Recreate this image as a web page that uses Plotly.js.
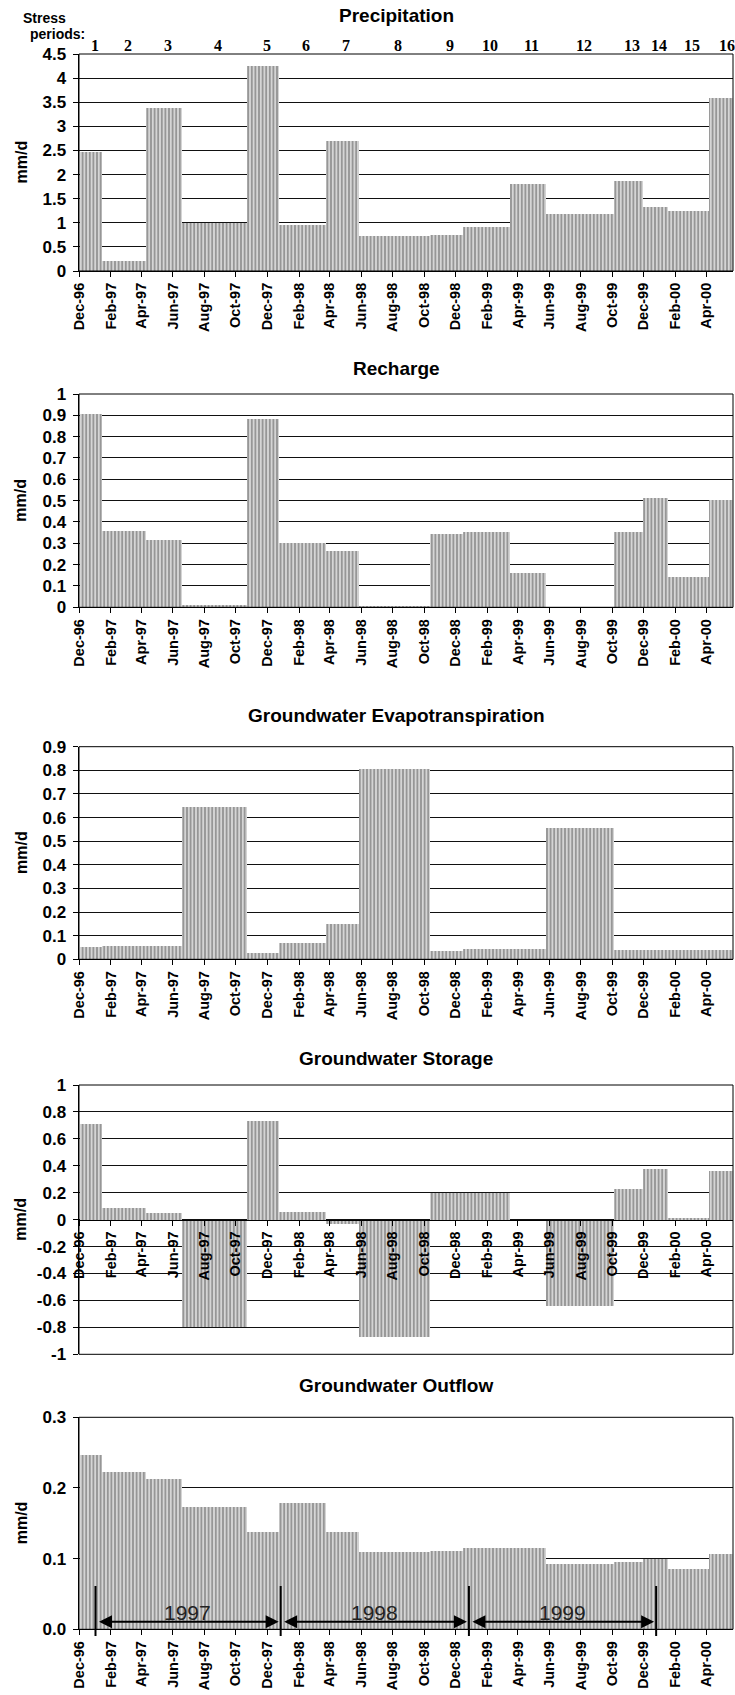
<!DOCTYPE html>
<html><head><meta charset="utf-8">
<script src="https://cdn.plot.ly/plotly-3.0.1.min.js"></script>
<style>html,body{margin:0;padding:0;background:#fff}#chart{width:735px;height:1695px}</style>
</head><body><div id="chart"></div>
<script>
// ---- data ----
const periodBounds = ['1996-12-02','1997-01-15','1997-04-09','1997-06-18','1997-10-22','1997-12-24','1998-03-25','1998-05-27','1998-10-12','1998-12-15','1999-03-16','1999-05-26','1999-10-05','1999-11-29','2000-01-16','2000-04-05','2000-05-31'];
const periodLabels = ['1','2','3','4','5','6','7','8','9','10','11','12','13','14','15','16'];
const precipitation = [2.46,0.21,3.37,1.00,4.26,0.96,2.69,0.72,0.755,0.91,1.81,1.18,1.87,1.32,1.25,3.58];
const recharge = [0.905,0.36,0.314,0.012,0.884,0.30,0.264,0.008,0.345,0.353,0.16,0.002,0.355,0.514,0.143,0.503];
const gwET = [0.05,0.055,0.055,0.645,0.025,0.068,0.15,0.805,0.035,0.045,0.045,0.556,0.04,0.04,0.04,0.04];
const gwStorage = [0.71,0.09,0.05,-0.795,0.73,0.06,-0.03,-0.875,0.195,0.195,-0.005,-0.64,0.225,0.378,0.015,0.36];
const gwOutflow = [0.247,0.222,0.212,0.173,0.137,0.179,0.138,0.110,0.111,0.115,0.115,0.093,0.095,0.100,0.085,0.106];
const storageTickVals = [-1,-0.8,-0.6,-0.4,-0.2,0,0.2,0.4,0.6,0.8,1];
const storageTickText = ['-1','-0.8','-0.6','-0.4','-0.2','0','0.2','0.4','0.6','0.8','1'];
const yearMarks = ['1997-01-02','1997-12-27','1998-12-27','1999-12-25'];
const yearLabels = ['1997','1998','1999'];

// ---- layout helpers ----
const W = 735, H = 1695;
const SANS = 'Liberation Sans, Arial, sans-serif';
const SERIF = 'Liberation Serif, Times New Roman, serif';
const py = p => 1 - p / H;
const xDomain = [79 / W, 733 / W];
const xRange = ['1996-12-01', '2000-05-22'];

const panels = [
  {title: 'Precipitation', vals: precipitation, top: 54, bot: 271, range: [0, 4.5], dtick: 0.5, titleY: 15},
  {title: 'Recharge', vals: recharge, top: 394, bot: 607.3, range: [0, 1], dtick: 0.1, titleY: 368},
  {title: 'Groundwater Evapotranspiration', vals: gwET, top: 746.7, bot: 959.3, range: [0, 0.9], dtick: 0.1, titleY: 715},
  {title: 'Groundwater Storage', vals: gwStorage, top: 1085, bot: 1354.3, range: [-1, 1], titleY: 1058, storage: true},
  {title: 'Groundwater Outflow', vals: gwOutflow, top: 1417.3, bot: 1629.3, range: [0, 0.3], dtick: 0.1, fmt: '.1f', titleY: 1385}
];

const ms = d => Date.parse(d + 'T00:00:00Z');
const starts = periodBounds.slice(0, -1);
const widths = starts.map((s, i) => ms(periodBounds[i + 1]) - ms(s));

const traces = [];
const layout = {
  width: W, height: H, margin: {l: 0, r: 0, t: 0, b: 0},
  paper_bgcolor: '#fff', plot_bgcolor: '#fff', showlegend: false,
  bargap: 0, annotations: [], shapes: []
};

panels.forEach((p, i) => {
  const n = i + 1, sx = n === 1 ? '' : String(n);
  traces.push({
    type: 'bar', x: starts, y: p.vals, width: widths, offset: 0,
    xaxis: 'x' + sx, yaxis: 'y' + sx, hoverinfo: 'skip',
    marker: {color: '#969696', line: {width: 0},
      pattern: {shape: '|', size: 3.6, solidity: 0.3, fgcolor: '#ffffff', bgcolor: '#969696', fillmode: 'replace'}}
  });
  const dom = [py(p.bot), py(p.top)];
  const xa = {
    domain: xDomain, range: xRange, type: 'date', tick0: '1996-12-01', dtick: 'M2', tickformat: '%b-%y',
    tickangle: -90, ticks: 'outside', ticklen: 5, tickcolor: '#000', tickwidth: 1,
    showline: true, linecolor: '#000', linewidth: 1, showgrid: false, zeroline: false,
    tickfont: {family: SANS, size: 14.5, color: '#000', weight: 'bold'}, fixedrange: true
  };
  if (p.storage) {
    xa.anchor = 'free';
    xa.position = dom[0] + (0 - p.range[0]) / (p.range[1] - p.range[0]) * (dom[1] - dom[0]);
  } else {
    xa.anchor = 'y' + sx;
  }
  const ya = {
    domain: dom, range: p.range, anchor: 'x' + sx,
    ticks: 'outside', ticklen: 5, tickcolor: '#000', tickwidth: 1, ticklabelstandoff: 3,
    showline: true, linecolor: '#000', linewidth: 1.5,
    showgrid: true, gridcolor: '#111', gridwidth: 1, zeroline: false,
    tickfont: {family: SANS, size: 17, color: '#000', weight: 'bold'}, fixedrange: true
  };
  if (p.storage) { ya.tickmode = 'array'; ya.tickvals = storageTickVals; ya.ticktext = storageTickText; }
  else { ya.dtick = p.dtick; ya.tick0 = 0; if (p.fmt) ya.tickformat = p.fmt; }
  layout['xaxis' + sx] = xa;
  layout['yaxis' + sx] = ya;

  // frame
  layout.shapes.push({type: 'rect', xref: 'x' + sx + ' domain', yref: 'y' + sx + ' domain', x0: 0, x1: 1, y0: 0, y1: 1,
    line: {color: '#000', width: 1}, layer: 'above'});
  // title
  layout.annotations.push({text: p.title, xref: 'paper', yref: 'paper', x: 396 / W, y: py(p.titleY),
    xanchor: 'center', yanchor: 'middle', showarrow: false,
    font: {family: SANS, size: 19, color: '#000', weight: 'bold'}});
  // axis label
  layout.annotations.push({text: 'mm/d', xref: 'paper', yref: 'paper', x: 21 / W, y: py((p.top + p.bot) / 2),
    xanchor: 'center', yanchor: 'middle', textangle: -90, showarrow: false,
    font: {family: SANS, size: 16, color: '#000', weight: 'bold'}});
});

// stress periods
layout.annotations.push({text: 'Stress', xref: 'paper', yref: 'paper', x: 44 / W, y: py(18), xanchor: 'center', yanchor: 'middle',
  showarrow: false, font: {family: SANS, size: 14, color: '#000', weight: 'bold'}});
layout.annotations.push({text: 'periods:', xref: 'paper', yref: 'paper', x: 58 / W, y: py(34), xanchor: 'center', yanchor: 'middle',
  showarrow: false, font: {family: SANS, size: 14, color: '#000', weight: 'bold'}});
periodLabels.forEach((lab, i) => {
  const mid = new Date((ms(periodBounds[i]) + ms(periodBounds[i + 1])) / 2).toISOString().slice(0, 10);
  layout.annotations.push({text: lab, xref: 'x', yref: 'paper', x: mid, y: py(45), xshift: 4,
    xanchor: 'center', yanchor: 'middle', showarrow: false,
    font: {family: SERIF, size: 16, color: '#000', weight: 'bold'}});
});

// year markers in outflow panel
const p5 = panels[4];
const arrowY = p5.range[0] + (p5.bot - 1621.7) / (p5.bot - p5.top) * (p5.range[1] - p5.range[0]);
yearMarks.forEach(d => {
  layout.shapes.push({type: 'line', xref: 'x5', yref: 'paper', x0: d, x1: d, y0: py(1586), y1: py(1636),
    line: {color: '#000', width: 2}, layer: 'above'});
});
yearLabels.forEach((lab, i) => {
  const a = yearMarks[i], b = yearMarks[i + 1];
  layout.annotations.push({xref: 'x5', yref: 'y5', axref: 'x5', ayref: 'y5', x: b, y: arrowY, ax: a, ay: arrowY,
    text: '', showarrow: true, arrowhead: 2, startarrowhead: 2, arrowside: 'end+start', arrowsize: 1.3, arrowwidth: 2,
    arrowcolor: '#000', standoff: 2, startstandoff: 2});
  const mid = new Date((ms(a) + ms(b)) / 2).toISOString().slice(0, 10);
  layout.annotations.push({text: lab, xref: 'x5', yref: 'paper', x: mid, y: py(1612), xanchor: 'center', yanchor: 'middle',
    showarrow: false, font: {family: SANS, size: 21, color: '#222'}});
});

Plotly.newPlot('chart', traces, layout, {staticPlot: true, displayModeBar: false});
</script>
</body></html>
